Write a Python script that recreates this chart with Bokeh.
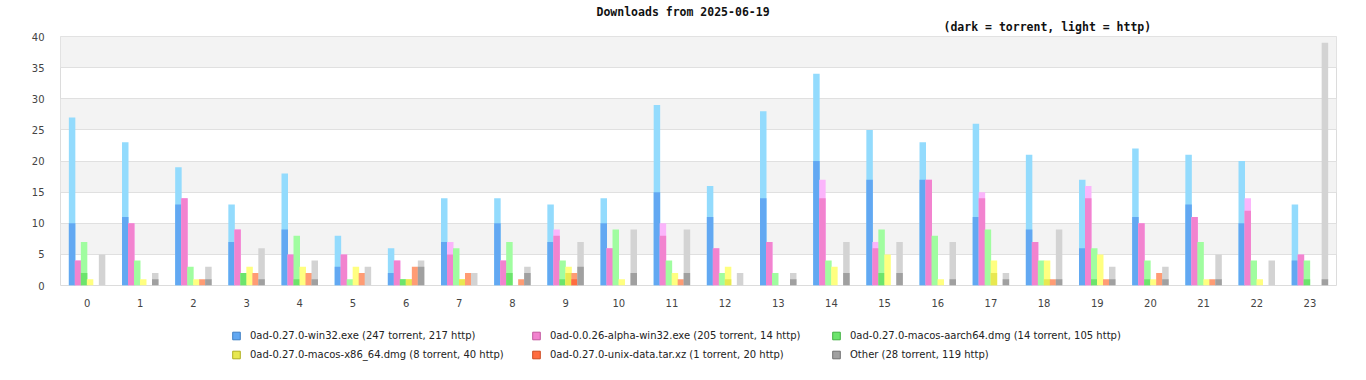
from bokeh.plotting import figure
from bokeh.models import (ColumnDataSource, Range1d, FixedTicker, Legend, LegendItem, Title)
from bokeh.layouts import column
from bokeh.transform import dodge
from bokeh.embed import file_html
from bokeh.resources import INLINE

hours = list(range(24))
hour_labels = [str(h) for h in hours]

series_names = [
    "0ad-0.27.0-win32.exe (247 torrent, 217 http)",
    "0ad-0.0.26-alpha-win32.exe (205 torrent, 14 http)",
    "0ad-0.27.0-macos-aarch64.dmg (14 torrent, 105 http)",
    "0ad-0.27.0-macos-x86_64.dmg (8 torrent, 40 http)",
    "0ad-0.27.0-unix-data.tar.xz (1 torrent, 20 http)",
    "Other (28 torrent, 119 http)",
]

# torrent downloads per hour
win32_torrent = [10, 11, 13, 7, 9, 3, 2, 7, 10, 7, 10, 15, 11, 14, 20, 17, 17, 11, 9, 6, 11, 13, 10, 4]
alpha_torrent = [4, 10, 14, 9, 5, 5, 4, 5, 4, 8, 6, 8, 6, 7, 14, 6, 17, 14, 7, 14, 10, 11, 12, 5]
aarch64_torrent = [2, 0, 0, 2, 1, 0, 1, 0, 2, 1, 0, 0, 0, 0, 0, 2, 0, 0, 0, 1, 1, 0, 0, 1]
x86_torrent = [0, 0, 0, 0, 0, 0, 1, 1, 0, 2, 0, 0, 1, 0, 0, 0, 0, 2, 1, 0, 0, 0, 0, 0]
unix_torrent = [0, 0, 0, 0, 0, 0, 0, 0, 0, 1, 0, 0, 0, 0, 0, 0, 0, 0, 0, 0, 0, 0, 0, 0]
other_torrent = [0, 1, 1, 1, 1, 0, 3, 0, 2, 3, 2, 2, 0, 1, 2, 2, 1, 1, 1, 1, 1, 1, 0, 1]

# http downloads per hour
win32_http = [17, 12, 6, 6, 9, 5, 4, 7, 4, 6, 4, 14, 5, 14, 14, 8, 6, 15, 12, 11, 11, 8, 10, 9]
alpha_http = [0, 0, 0, 0, 0, 0, 0, 2, 0, 1, 0, 2, 0, 0, 3, 1, 0, 1, 0, 2, 0, 0, 2, 0]
aarch64_http = [5, 4, 3, 0, 7, 1, 0, 6, 5, 3, 9, 4, 2, 2, 4, 7, 8, 9, 4, 5, 3, 7, 4, 3]
x86_http = [1, 1, 1, 3, 3, 3, 0, 0, 0, 1, 1, 2, 2, 0, 3, 5, 1, 2, 3, 5, 1, 1, 1, 0]
unix_http = [0, 0, 1, 2, 2, 2, 3, 2, 1, 1, 0, 1, 0, 0, 0, 0, 0, 0, 1, 1, 2, 1, 0, 0]
other_http = [5, 1, 2, 5, 3, 3, 1, 2, 1, 4, 7, 7, 2, 1, 5, 5, 6, 1, 8, 2, 2, 4, 4, 38]

torrent = [win32_torrent, alpha_torrent, aarch64_torrent, x86_torrent, unix_torrent, other_torrent]
http = [win32_http, alpha_http, aarch64_http, x86_http, unix_http, other_http]

dark_colors = ["#62a8f2", "#f283cf", "#6ce46c", "#e8e850", "#ff6d40", "#a0a0a0"]
light_colors = ["#93dbfd", "#fbb5fb", "#a0fda0", "#ffff80", "#ff9c74", "#d3d3d3"]
legend_border = ["#3f7fc4", "#c2579f", "#41b041", "#b0b020", "#cc4a20", "#707070"]

p = figure(width=1350, height=310, output_backend="svg", toolbar_location=None,
           title=None, x_range=Range1d(-0.5, 23.5), y_range=Range1d(0, 40),
           min_border_left=60, min_border_right=14, min_border_top=36, min_border_bottom=25)
p.background_fill_color = "white"
p.border_fill_color = "white"
p.outline_line_color = "#dcdcdc"
p.outline_line_width = 1

p.xgrid.visible = False
p.ygrid.grid_line_color = "#e0e0e0"
p.ygrid.band_fill_color = "#f3f3f3"
p.ygrid.band_fill_alpha = 1.0

p.yaxis.ticker = FixedTicker(ticks=[0, 5, 10, 15, 20, 25, 30, 35, 40])
p.xaxis.ticker = FixedTicker(ticks=hours)
p.xaxis.major_label_overrides = {h: s for h, s in zip(hours, hour_labels)}
for ax in (p.xaxis[0], p.yaxis[0]):
    ax.axis_line_color = None
    ax.major_tick_line_color = None
    ax.minor_tick_line_color = None
    ax.major_label_text_font = "DejaVu Sans"
    ax.major_label_text_font_size = "10px"
    ax.major_label_text_color = "#444444"
p.yaxis.major_label_standoff = 10
p.xaxis.major_label_standoff = 7

step = 0.1128
width = 0.122
sources = []
for i in range(6):
    total = [t + h for t, h in zip(torrent[i], http[i])]
    src = ColumnDataSource(dict(hour=hours, total=total, torrent=torrent[i]))
    sources.append(src)
    off = (i - 2.5) * step
    p.vbar(x=dodge("hour", off, range=p.x_range), top="total", bottom=0, width=width,
           source=src, fill_color=light_colors[i], line_color=None)
    p.vbar(x=dodge("hour", off, range=p.x_range), top="torrent", bottom=0, width=width,
           source=src, fill_color=dark_colors[i], line_color=None)

p.add_layout(Title(text="(dark = torrent, light = http)", align="left", offset=883, standoff=5,
                   text_font="DejaVu Sans Mono", text_font_style="bold", text_font_size="11.5px",
                   text_color="#111111"), "above")
p.add_layout(Title(text="Downloads from 2025-06-19", align="left", offset=536, standoff=-7,
                   text_font="DejaVu Sans Mono", text_font_style="bold", text_font_size="11.5px",
                   text_color="#111111"), "above")

# legend strip below the chart (its points fall outside its own view; only the legend shows)
lf = figure(width=1350, height=54, output_backend="svg", toolbar_location=None,
            title=None, x_range=Range1d(-0.5, 23.5), y_range=Range1d(-300, -299),
            x_axis_type=None, y_axis_type=None,
            min_border_left=0, min_border_right=0, min_border_top=0, min_border_bottom=0)
lf.outline_line_color = None
lf.background_fill_color = "white"
lf.border_fill_color = "white"
legend_renderers = []
for i in range(6):
    r = lf.scatter(x="hour", y="torrent", marker="square", size=8, source=sources[i],
                   fill_color=dark_colors[i], line_color=legend_border[i], line_width=1)
    legend_renderers.append(r)

legend = Legend(items=[LegendItem(label=series_names[i], renderers=[legend_renderers[i]]) for i in range(6)],
                location=(166, 0.5), orientation="horizontal", ncols=3,
                padding=0, margin=0, spacing=0, glyph_width=20, glyph_height=19,
                label_standoff=4, label_width=276, label_height=13,
                label_text_font="DejaVu Sans", label_text_font_size="10px",
                label_text_color="#222222", border_line_alpha=0, background_fill_alpha=0)
lf.add_layout(legend)

open("out.html", "w").write(file_html(column(p, lf, spacing=0), INLINE))
